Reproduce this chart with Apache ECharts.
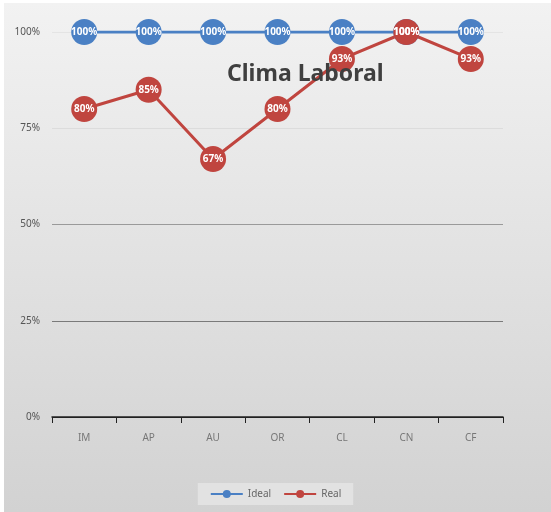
<!DOCTYPE html>
<html>
<head>
<meta charset="utf-8">
<script src="https://cdn.jsdelivr.net/npm/echarts@6/dist/echarts.min.js"></script>
<style>
  html, body { margin: 0; padding: 0; background: #ffffff; }
  #chart { width: 551px; height: 512px; }
</style>
</head>
<body>
<div id="chart"></div>
<script>
// Climate dimensions and their scores (percent)
const categories = ['IM', 'AP', 'AU', 'OR', 'CL', 'CN', 'CF'];
const idealValues = [100, 100, 100, 100, 100, 100, 100];
const realValues = [80, 85, 67, 80, 93, 100, 93];
const yTicks = [0, 25, 50, 75, 100];

const chart = echarts.init(document.getElementById('chart'));

function seriesOf(name, data, color) {
  return {
    name: name,
    type: 'line',
    data: data,
    symbol: 'circle',
    symbolSize: 26,
    lineStyle: { color: color, width: 3 },
    itemStyle: { color: color },
    label: {
      show: true,
      position: 'inside',
      formatter: '{c}%',
      color: '#ffffff',
      fontSize: 10,
      fontWeight: 'bold',
      fontFamily: 'Noto Sans'
    },
    emphasis: { disabled: true }
  };
}

chart.setOption({
  animation: false,
  backgroundColor: '#ffffff',
  graphic: [{
    type: 'rect',
    left: 4,
    top: 3,
    shape: { width: 547, height: 509 },
    style: {
      fill: new echarts.graphic.LinearGradient(0, 0, 0, 1, [
        { offset: 0, color: '#f2f2f2' },
        { offset: 1, color: '#d2d2d2' }
      ])
    },
    z: -10,
    silent: true
  }],
  title: {
    text: 'Clima Laboral',
    left: 222,
    top: 58,
    textStyle: {
      fontFamily: 'Noto Sans',
      fontSize: 23,
      fontWeight: 'bold',
      color: '#3f3f3f'
    }
  },
  legend: {
    bottom: 7,
    left: 'center',
    itemWidth: 32,
    itemHeight: 10,
    itemGap: 12,
    backgroundColor: '#e2e2e2',
    padding: [6, 12],
    textStyle: { color: '#666666', fontSize: 10, fontFamily: 'Noto Sans' },
    data: ['Ideal', 'Real']
  },
  grid: { left: 52, right: 48, top: 32, bottom: 95 },
  xAxis: {
    type: 'category',
    data: categories,
    boundaryGap: true,
    axisLine: { lineStyle: { color: '#222222', width: 1.5 } },
    axisTick: { show: true, length: 6, lineStyle: { color: '#222222' } },
    axisLabel: { color: '#777777', fontSize: 10, margin: 16, fontFamily: 'Noto Sans' }
  },
  yAxis: {
    type: 'value',
    min: yTicks[0],
    max: yTicks[yTicks.length - 1],
    interval: 25,
    axisLine: { show: false },
    axisTick: { show: false },
    axisLabel: {
      formatter: '{value}%',
      color: '#555555',
      fontSize: 10,
      margin: 12,
      fontFamily: 'Noto Sans'
    },
    splitLine: {
      lineStyle: { color: ['#222222', '#7a7a7a', '#9a9a9a', '#dcdcdc', '#e4e4e4'], width: 1.2 }
    }
  },
  series: [
    seriesOf('Ideal', idealValues, '#4a80c4'),
    seriesOf('Real', realValues, '#c0453f')
  ]
});
</script>
</body>
</html>
